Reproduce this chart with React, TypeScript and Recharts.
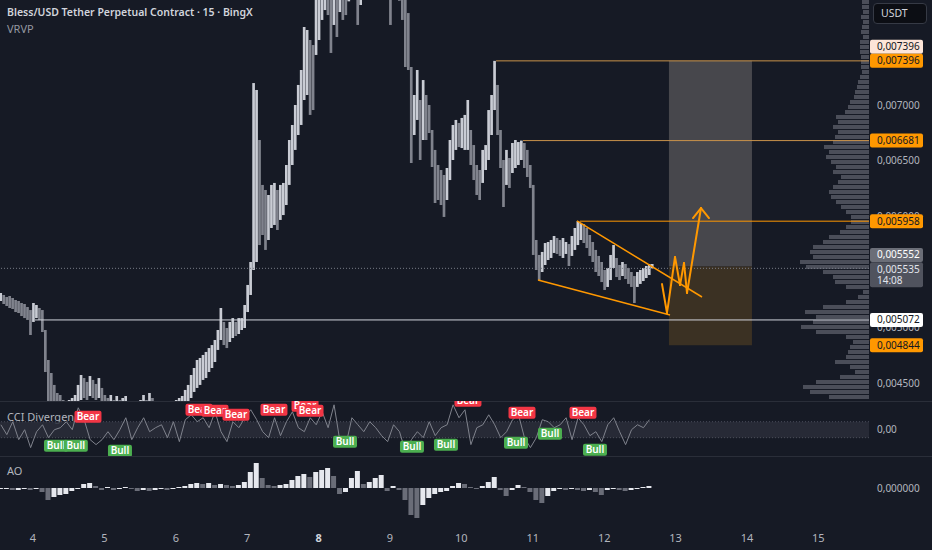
import React from "react";
import {
  ComposedChart,
  Bar,
  Line,
  XAxis,
  YAxis,
  Cell,
  ReferenceLine,
  ReferenceArea,
  ReferenceDot,
} from "recharts";

// ---- layout ----
const CHART_W = 932;
const AXIS_W = 63;
const PRICE_H = 401;
const CCI_TOP = 401;
const CCI_H = 55;
const AO_TOP = 456;
const AO_H = 74;
const TIME_AXIS_H = 20;

const BG = "#161a25";
const PANE_LINE = "#2a2e39";
const TEXT = "#b2b5be";
const ORANGE = "#ff9800";
const FONT = '"Noto Sans", "Open Sans", sans-serif';

// ---- time axis (days of the month) ----
const X_MIN = 3.5378;
const X_MAX = 15.709;
const DAY_TICKS = [4, 5, 6, 7, 8, 9, 10, 11, 12, 13, 14, 15];
const WEEK_START_DAY = 8;

// ---- price pane, prices in 1e-6 USDT ----
const P_MIN = 4345;
const P_MAX = 7942;
const PRICE_TICKS = [4500, 5000, 5500, 6000, 6500, 7000];

// hourly bars
const FIRST_BAR_DAY = 3.55;
const BAR_STEP_DAYS = 1 / 24;
const CANDLE_HIGH = [
  5314, 5296, 5278, 5287, 5269, 5251, 5242, 5224, 5215, 5188,
  5161, 5224, 5206, 5179, 5161, 4982, 4713, 4596, 4489, 4417,
  4399, 4354, 4309, 4354, 4372, 4399, 4489, 4578, 4551, 4516,
  4569, 4534, 4498, 4551, 4462, 4399, 4372, 4399, 4354, 4390,
  4354, 4372, 4390, 4336, 4309, 4327, 4336, 4354, 4399, 4354,
  4417, 4372, 4327, 4309, 4318, 4309, 4336, 4318, 4327, 4354,
  4372, 4390, 4444, 4489, 4578, 4641, 4713, 4731, 4758, 4785,
  4820, 4847, 4892, 4982, 5179, 5054, 5000, 5054, 5089, 5054,
  5089, 5089, 5206, 5386, 5592, 7197, 7135, 6686, 6283, 6238,
  6193, 6283, 6301, 6238, 6283, 6301, 6462, 6686, 6821, 7000,
  7180, 7314, 7700, 7673, 7583, 7538, 8103, 8121, 8211, 8301,
  8211, 8121, 8211, 8166, 8121, 8077, 8032, 8301, 8391, 8480,
  8301, 8391, 8570, 8660, 8570, 8480, 8391, 8480, 8391, 8301,
  8211, 8211, 8301, 8211, 8121, 8032, 8000, 7825, 7341, 7090,
  7314, 7045, 7224, 7090, 7000, 6776, 6597, 6462, 6417, 6372,
  6435, 6686, 6821, 6866, 6839, 6884, 6911, 7045, 6776, 6641,
  6462, 6417, 6597, 6641, 6955, 7090, 7396, 7180, 6776, 6507,
  6597, 6525, 6659, 6686, 6668, 6681, 6659, 6597, 6462, 6283,
  5789, 5655, 5682, 5762, 5771, 5789, 5825, 5807, 5789, 5807,
  5771, 5753, 5825, 5897, 5958, 5942, 5933, 5897, 5834, 5771,
  5700, 5646, 5592, 5520, 5538, 5655, 5744, 5628, 5565, 5592,
  5574, 5538, 5502, 5466, 5502, 5520, 5538, 5556, 5574, 5574,
];
const CANDLE_LOW = [
  5242, 5215, 5197, 5179, 5170, 5143, 5134, 5107, 5089, 5072,
  4937, 5054, 5089, 5072, 4964, 4605, 4309, 4264, 4264, 4220,
  4175, 4130, 4085, 4130, 4175, 4220, 4282, 4354, 4372, 4354,
  4390, 4372, 4354, 4372, 4309, 4264, 4220, 4246, 4193, 4246,
  4193, 4228, 4246, 4175, 4157, 4175, 4193, 4210, 4246, 4210,
  4264, 4228, 4175, 4157, 4175, 4157, 4193, 4175, 4193, 4210,
  4246, 4264, 4309, 4336, 4372, 4426, 4462, 4489, 4534, 4551,
  4605, 4641, 4695, 4803, 4892, 4847, 4820, 4874, 4910, 4928,
  4946, 4982, 5000, 5143, 5296, 5520, 5592, 5744, 5834, 5700,
  5789, 5897, 5924, 5879, 5969, 6013, 6103, 6283, 6462, 6597,
  6731, 6821, 7045, 7090, 6911, 6955, 7449, 7583, 7763, 7852,
  7807, 7467, 7718, 7610, 7834, 7763, 7807, 7930, 7987, 8032,
  7718, 7897, 8121, 8211, 8166, 8077, 8032, 8121, 8032, 7987,
  7960, 7718, 7987, 7987, 7935, 7763, 7341, 7314, 6480, 6731,
  6866, 6507, 6686, 6686, 6749, 6444, 6121, 6148, 6103, 5996,
  6148, 6327, 6507, 6597, 6623, 6614, 6597, 6597, 6462, 6327,
  6193, 6148, 6301, 6417, 6507, 6731, 6955, 6731, 6435, 6085,
  6283, 6256, 6390, 6435, 6462, 6507, 6435, 6354, 6256, 5655,
  5520, 5430, 5502, 5565, 5610, 5628, 5673, 5664, 5646, 5628,
  5664, 5556, 5646, 5700, 5744, 5789, 5762, 5717, 5646, 5592,
  5502, 5466, 5412, 5341, 5368, 5430, 5538, 5457, 5430, 5466,
  5439, 5395, 5368, 5224, 5368, 5395, 5421, 5448, 5475, 5535,
];

const LAST_PRICE = 5535;
const SUPPORT = 5072;
const LEVELS = [
  { price: 7396, from: 10.485 },
  { price: 6681, from: 10.863 },
];
const FLAG_TOP = { price: 5958, from: 11.661 };
const SUPPORT_FROM = 4.028;

// long position tool
const POS_FROM = 12.907;
const POS_TO = 14.07;
const POS_TARGET = 7396;
const POS_ENTRY = 5552;
const POS_STOP = 4844;

// wedge lines and projected path (day, price)
const WEDGE_UPPER = [
  { t: 11.619, p: 5960 },
  { t: 13.37, p: 5278 },
];
const WEDGE_LOWER = [
  { t: 11.073, p: 5430 },
  { t: 12.922, p: 5117 },
];
const PATH = [
  { t: 12.81, p: 5394 },
  { t: 12.88, p: 5134 },
  { t: 12.992, p: 5637 },
  { t: 13.062, p: 5385 },
  { t: 13.118, p: 5583 },
  { t: 13.16, p: 5314 },
  { t: 13.356, p: 6076 },
];
const ARROW_WINGS = [
  { t: 13.244, p: 5986 },
  { t: 13.468, p: 5986 },
];

const PRICE_TAGS = [
  { price: 7396, bg: "#fde5d8", fg: "#131722", shift: -14 },
  { price: 7396, bg: ORANGE, fg: "#131722", shift: 0 },
  { price: 6681, bg: ORANGE, fg: "#131722", shift: 0 },
  { price: 5958, bg: ORANGE, fg: "#131722", shift: 0 },
  { price: 5552, bg: "#6b6e78", fg: "#ffffff", shift: -11.5 },
  { price: 5535, bg: "#50535e", fg: "#e0e3eb", shift: 0, sub: "14:08" },
  { price: 5072, bg: "#ffffff", fg: "#131722", shift: 0 },
  { price: 4844, bg: ORANGE, fg: "#131722", shift: 0 },
];

// ---- visible range volume profile (rows from the top of the pane down) ----
const PROFILE_TOP_PRICE = 7942;
const PROFILE_ROW_STEP = 44.85;
const PROFILE_VOLUME_MAX = 869;
const PROFILE_VOLUME = [
  7, 7, 6, 8, 6, 7, 8, 6, 9, 9,
  9, 8, 8, 8, 7, 9, 11, 12, 14, 15,
  19, 21, 24, 33, 31, 36, 31, 34, 36, 45,
  40, 43, 38, 33, 36, 28, 31, 36, 40, 38,
  33, 28, 23, 18, 18, 23, 29, 40, 46, 56,
  59, 56, 69, 63, 46, 36, 34, 23, 6, 11,
  23, 46, 64, 53, 56, 68, 53, 23, 16, 19,
  21, 23, 34, 19, 14, 29, 53, 66, 59, 40,
];

// ---- CCI pane (2h samples) ----
const OSC_STEP_DAYS = 1 / 12;
const CCI_MIN = -330;
const CCI_MAX = 360;
const CCI = [
  62, -62, 100, -125, 0, -225, -25, 62, -100, 0,
  25, 100, 0, 275, 125, -125, -187, -125, -25, -125,
  0, 150, -125, 25, 150, -25, 25, 62, -100, 100,
  -150, 125, 187, 100, 150, 25, 225, -25, -150, 100,
  25, 150, 250, 125, -25, -100, 150, -75, 100, 225,
  25, -25, 150, 62, 225, 25, 312, -150, -187, 150,
  62, -25, 100, 25, -75, -150, 62, -25, -275, -125,
  -25, -100, 100, -75, 25, 62, 312, 150, 250, -187,
  25, 62, 187, 62, -100, -25, 125, 187, -100, -225,
  -100, 125, 100, 25, 62, 150, -125, 150, 62, -75,
  -25, -150, 62, 150, -25, -187, 0, 62, 25, 125,
];
const CCI_SIGNALS = [
  { t: 4.77, v: 163, kind: "Bear" },
  { t: 4.322, v: -201, kind: "Bull" },
  { t: 4.6, v: -201, kind: "Bull" },
  { t: 5.218, v: -264, kind: "Bull" },
  { t: 6.325, v: 251, kind: "Bear" },
  { t: 6.549, v: 238, kind: "Bear" },
  { t: 6.843, v: 188, kind: "Bear" },
  { t: 7.375, v: 251, kind: "Bear" },
  { t: 7.81, v: 301, kind: "Bear" },
  { t: 7.88, v: 238, kind: "Bear" },
  { t: 8.37, v: -151, kind: "Bull" },
  { t: 9.308, v: -213, kind: "Bull" },
  { t: 9.784, v: -188, kind: "Bull" },
  { t: 10.092, v: 364, kind: "Bear" },
  { t: 10.849, v: 213, kind: "Bear" },
  { t: 10.765, v: -163, kind: "Bull" },
  { t: 11.241, v: -50, kind: "Bull" },
  { t: 11.703, v: 213, kind: "Bear" },
  { t: 11.871, v: -251, kind: "Bull" },
];

// ---- AO pane, 1e-6 USDT (2h samples) ----
const AO_MIN = -420;
const AO_MAX = 320;
const AO = [
  -10, -10, -20, -20, -10, -20, -10, -40, -120, -90,
  -70, -60, -30, -10, 40, 50, 20, -20, 10, -20,
  -10, 10, -10, -30, -20, -30, -20, -10, -20, -10,
  10, 20, 40, 50, 40, 50, 30, 40, 30, 20,
  30, 60, 160, 250, 100, 30, 20, 30, 40, 80,
  120, 140, 110, 160, 180, 200, 120, -60, -40, 100,
  170, 40, 60, 100, 130, -30, 20, -20, -120, -270,
  -300, -170, -100, -60, -40, -30, 20, 50, 40, 10,
  -10, 20, 60, 110, -20, -80, -20, 30, 10, -40,
  -120, -150, -80, -30, -10, -20, -10, -20, -30, -20,
  -40, -70, -20, -10, -20, -30, -20, -10, 10, 20,
];

const formatPrice = (p: number) => (p / 1e6).toFixed(6).replace(".", ",");

const candleRows = CANDLE_HIGH.map((hi, i) => {
  const lo = CANDLE_LOW[i];
  const up = i === 0 || hi + lo >= CANDLE_HIGH[i - 1] + CANDLE_LOW[i - 1];
  return { t: FIRST_BAR_DAY + i * BAR_STEP_DAYS, range: [lo, hi], up };
});
const profileRows = PROFILE_VOLUME.map((vol, r) => ({
  price: PROFILE_TOP_PRICE - (r + 0.5) * PROFILE_ROW_STEP,
  vol,
}));
const cciRows = CCI.map((v, k) => ({ t: FIRST_BAR_DAY + k * OSC_STEP_DAYS, cci: v }));
const aoRows = AO.map((v, k) => ({
  t: FIRST_BAR_DAY + k * OSC_STEP_DAYS,
  ao: v,
  up: k === 0 || v >= AO[k - 1],
}));

const NO_MARGIN = { top: 0, right: 0, bottom: 0, left: 0 };

const AxisText = (props: any) => {
  const vb = props.viewBox || {};
  const x = (vb.x ?? 0) + (vb.width ?? 0) + 8;
  const y = vb.y ?? 0;
  return (
    <text x={x} y={y + 3.5} fill={TEXT} fontSize={10} fontFamily={FONT}>
      {props.text}
    </text>
  );
};

const PriceTag = (props: any) => {
  const vb = props.viewBox || {};
  const x = (vb.x ?? 0) + (vb.width ?? 0) + 1;
  const y = (vb.y ?? 0) + (props.shift ?? 0);
  const top = props.sub ? y - 6 : y - 7;
  const h = props.sub ? 25 : 14;
  return (
    <g>
      <rect x={x} y={top} width={53} height={h} rx={2} fill={props.bg} />
      <text x={x + 7} y={top + 10.5} fill={props.fg} fontSize={10} fontFamily={FONT}>
        {formatPrice(props.price)}
      </text>
      {props.sub && (
        <text x={x + 7} y={top + 22} fill={props.fg} fontSize={10} fontFamily={FONT}>
          {props.sub}
        </text>
      )}
    </g>
  );
};

const SignalTag = (props: any) => {
  const { cx, cy, kind } = props;
  const bear = kind === "Bear";
  const w = bear ? 27 : 24;
  return (
    <g>
      <rect x={cx - w / 2} y={cy - 6} width={w} height={12} rx={2} fill={bear ? "#f23645" : "#4caf50"} />
      <text x={cx} y={cy + 3.5} fill="#ffffff" fontSize={10} fontWeight={600} fontFamily={FONT} textAnchor="middle">
        {kind}
      </text>
    </g>
  );
};

const DayTick = (props: any) => {
  const { x, y, payload } = props;
  const bold = payload.value === WEEK_START_DAY;
  return (
    <text x={x} y={y + 4} fill={bold ? "#d1d4dc" : TEXT} fontSize={11} fontWeight={bold ? 700 : 400} fontFamily={FONT} textAnchor="middle">
      {payload.value}
    </text>
  );
};

const seg = (a: { t: number; p: number }, b: { t: number; p: number }) => [
  { x: a.t, y: a.p },
  { x: b.t, y: b.p },
];

export default function App() {
  return (
    <div style={{ position: "relative", width: CHART_W, height: 550, background: BG, overflow: "hidden", fontFamily: FONT }}>
      <style>{`body{margin:0;background:${BG};}`}</style>

      {/* volume profile, behind the price pane */}
      <div style={{ position: "absolute", left: 0, top: 0 }}>
        <ComposedChart layout="vertical" width={CHART_W} height={PRICE_H} data={profileRows} margin={{ ...NO_MARGIN, right: AXIS_W }}>
          <XAxis type="number" domain={[0, PROFILE_VOLUME_MAX]} reversed hide />
          <YAxis type="number" dataKey="price" domain={[P_MIN, P_MAX]} reversed hide allowDataOverflow />
          <Bar dataKey="vol" barSize={4} fill="#4b4e59" isAnimationActive={false} />
        </ComposedChart>
      </div>

      {/* price pane */}
      <div style={{ position: "absolute", left: 0, top: 0 }}>
        <ComposedChart width={CHART_W} height={PRICE_H} data={candleRows} margin={NO_MARGIN}>
          <XAxis type="number" dataKey="t" domain={[X_MIN, X_MAX]} allowDataOverflow hide />
          <YAxis orientation="right" width={AXIS_W} domain={[P_MIN, P_MAX]} allowDataOverflow tick={false} axisLine={false} tickLine={false} />

          <ReferenceArea x1={POS_FROM} x2={POS_TO} y1={POS_ENTRY} y2={POS_TARGET} fill="#47474c" fillOpacity={1} stroke="none" />
          <ReferenceArea x1={POS_FROM} x2={POS_TO} y1={POS_STOP} y2={POS_ENTRY} fill="#3b3123" fillOpacity={1} stroke="none" />

          <ReferenceLine y={LAST_PRICE} stroke="#787b86" strokeDasharray="1 2" />
          <ReferenceLine segment={[{ x: SUPPORT_FROM, y: SUPPORT }, { x: X_MAX, y: SUPPORT }]} stroke="#d1d4dc" strokeWidth={1} />
          {LEVELS.map((l) => (
            <ReferenceLine key={l.price} segment={[{ x: l.from, y: l.price }, { x: X_MAX, y: l.price }]} stroke="#c8924a" strokeWidth={1} />
          ))}
          <ReferenceLine segment={[{ x: FLAG_TOP.from, y: FLAG_TOP.price }, { x: X_MAX, y: FLAG_TOP.price }]} stroke={ORANGE} strokeWidth={1} />

          <Bar dataKey="range" barSize={3} isAnimationActive={false}>
            {candleRows.map((r, i) => (
              <Cell key={i} fill={r.up ? "#c9ccd4" : "#80838d"} />
            ))}
          </Bar>

          <ReferenceLine segment={seg(WEDGE_UPPER[0], WEDGE_UPPER[1])} stroke={ORANGE} strokeWidth={1.5} />
          <ReferenceLine segment={seg(WEDGE_LOWER[0], WEDGE_LOWER[1])} stroke={ORANGE} strokeWidth={1.5} />
          {PATH.slice(1).map((pt, i) => (
            <ReferenceLine key={`path-${i}`} segment={seg(PATH[i], pt)} stroke={ORANGE} strokeWidth={2} strokeLinecap="round" />
          ))}
          {ARROW_WINGS.map((w, i) => (
            <ReferenceLine key={`wing-${i}`} segment={seg(PATH[PATH.length - 1], w)} stroke={ORANGE} strokeWidth={2} strokeLinecap="round" />
          ))}

          {PRICE_TICKS.map((p) => (
            <ReferenceLine key={`tick-${p}`} y={p} stroke="none" label={<AxisText text={formatPrice(p)} />} />
          ))}
          {PRICE_TAGS.map((tag, i) => (
            <ReferenceLine key={`tag-${i}`} y={tag.price} stroke="none" ifOverflow="visible" label={<PriceTag {...tag} />} />
          ))}
        </ComposedChart>
      </div>

      <div style={{ position: "absolute", left: 7, top: 5, fontSize: 10.5, fontWeight: 600, color: "#d1d4dc", whiteSpace: "nowrap" }}>
        Bless/USD Tether Perpetual Contract · 15 · BingX
      </div>
      <div style={{ position: "absolute", left: 7, top: 21, fontSize: 11, color: "#9598a1" }}>VRVP</div>

      <div style={{ position: "absolute", left: 873, top: 3, width: 54, height: 21, boxSizing: "border-box", border: "1px solid #363a45", borderRadius: 4, background: "#0c0e14", color: "#d1d4dc", fontSize: 10.5, lineHeight: "19px", paddingLeft: 7 }}>
        USDT
      </div>

      {/* pane separators */}
      <div style={{ position: "absolute", left: 0, top: CCI_TOP, width: CHART_W, height: 1, background: PANE_LINE }} />
      <div style={{ position: "absolute", left: 0, top: AO_TOP, width: CHART_W, height: 1, background: PANE_LINE }} />

      {/* CCI divergence pane */}
      <div style={{ position: "absolute", left: 7, top: CCI_TOP + 8, fontSize: 11, color: TEXT }}>CCI Divergence</div>
      <div style={{ position: "absolute", left: 0, top: CCI_TOP }}>
        <ComposedChart width={CHART_W} height={CCI_H} data={cciRows} margin={NO_MARGIN}>
          <XAxis type="number" dataKey="t" domain={[X_MIN, X_MAX]} allowDataOverflow hide />
          <YAxis orientation="right" width={AXIS_W} domain={[CCI_MIN, CCI_MAX]} allowDataOverflow tick={false} axisLine={false} tickLine={false} />
          <ReferenceArea y1={-100} y2={100} fill="#2a2e39" fillOpacity={0.85} stroke="none" />
          <ReferenceLine y={100} stroke="#4a4e5a" strokeDasharray="1 2" />
          <ReferenceLine y={-100} stroke="#4a4e5a" strokeDasharray="1 2" />
          <ReferenceLine y={0} stroke="none" label={<AxisText text="0,00" />} />
          <Line dataKey="cci" type="linear" stroke="#80838d" strokeWidth={1} dot={false} isAnimationActive={false} />
          {CCI_SIGNALS.map((s, i) => (
            <ReferenceDot key={i} x={s.t} y={s.v} ifOverflow="visible" shape={(p: any) => <SignalTag {...p} kind={s.kind} />} />
          ))}
        </ComposedChart>
      </div>

      {/* AO pane with the time axis */}
      <div style={{ position: "absolute", left: 7, top: AO_TOP + 7, fontSize: 11, color: TEXT }}>AO</div>
      <div style={{ position: "absolute", left: 0, top: AO_TOP }}>
        <ComposedChart width={CHART_W} height={AO_H + TIME_AXIS_H} data={aoRows} margin={NO_MARGIN}>
          <XAxis
            type="number"
            dataKey="t"
            domain={[X_MIN, X_MAX]}
            allowDataOverflow
            ticks={DAY_TICKS}
            interval={0}
            height={TIME_AXIS_H}
            axisLine={false}
            tickLine={false}
            tick={<DayTick />}
          />
          <YAxis orientation="right" width={AXIS_W} domain={[AO_MIN, AO_MAX]} allowDataOverflow tick={false} axisLine={false} tickLine={false} />
          <ReferenceLine y={0} stroke="none" label={<AxisText text="0,000000" />} />
          <Bar dataKey="ao" barSize={5} isAnimationActive={false}>
            {aoRows.map((r, i) => (
              <Cell key={i} fill={r.up ? "#e6e8ee" : "#6a6d78"} />
            ))}
          </Bar>
        </ComposedChart>
      </div>
    </div>
  );
}
